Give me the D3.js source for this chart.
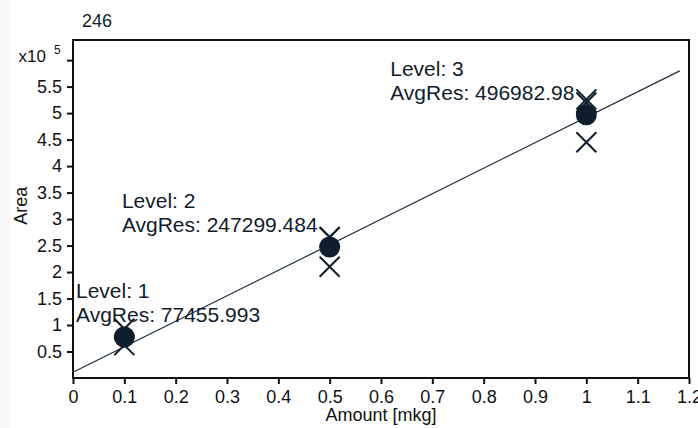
<!DOCTYPE html>
<html>
<head>
<meta charset="utf-8">
<script src="https://cdn.jsdelivr.net/npm/d3@7"></script>
<style>
  html, body { margin: 0; padding: 0; background: #fafafa; }
  svg { display: block; }
  text { font-family: "Liberation Sans", Arial, sans-serif; }
</style>
</head>
<body>
<svg id="chart" width="698" height="428"></svg>
<script>
// Calibration levels: amount injected and averaged response
const levels = [1, 2, 3];
const amounts = [0.1, 0.5, 1.0];
const avgResponse = [77455.993, 247299.484, 496982.98];

// Individual replicate responses per level
const replicates = [
  [62000, 93000],
  [210000, 265500, 266400],
  [445000, 526000, 520000]
];

// Fitted calibration line (intercept, slope) and its drawn extent
const fitIntercept = 10750;
const fitSlope = 481400;
const fitRange = [0, 1.182];

const xTicks = [0, 0.1, 0.2, 0.3, 0.4, 0.5, 0.6, 0.7, 0.8, 0.9, 1, 1.1, 1.2];
const yTicks = [50000, 100000, 150000, 200000, 250000, 300000, 350000, 400000, 450000, 500000, 550000];
const yExpTick = 600000;
const compoundId = "246";

const W = 698, H = 428;
const margin = { left: 73, right: 9, top: 40, bottom: 50 };
const ink = "#0f1d2c";

const svg = d3.select("#chart");
svg.append("rect").attr("x", 10).attr("y", 0).attr("width", W - 10).attr("height", H).attr("fill", "#ffffff");

const x = d3.scaleLinear().domain([0, 1.2]).range([margin.left, W - margin.right]);
const y = d3.scaleLinear().domain([0, 638000]).range([H - margin.bottom, margin.top]);

// Axes
const xAxis = d3.axisBottom(x).tickValues(xTicks).tickSize(6).tickPadding(6)
  .tickFormat(d => d3.format("~g")(d));
const gx = svg.append("g").attr("transform", `translate(0,${y(0)})`).call(xAxis);

const yAxis = d3.axisLeft(y).tickValues(yTicks.concat([yExpTick])).tickSize(6).tickPadding(5)
  .tickFormat(d => d === yExpTick ? "" : d3.format("~g")(d / 1e5));
const gy = svg.append("g").attr("transform", `translate(${x(0)},0)`).call(yAxis);

[gx, gy].forEach(g => {
  g.select(".domain").remove();
  g.selectAll(".tick line").attr("stroke", "#111").attr("stroke-width", 2);
  g.selectAll(".tick text").attr("fill", "#111").style("font-size", "18px");
});

// Exponent label at the top tick
const expG = svg.append("g");
expG.append("text").attr("x", x(0) - 27).attr("y", y(yExpTick) + 2)
  .attr("text-anchor", "end").attr("fill", "#111").style("font-size", "17px").text("x10");
expG.append("text").attr("x", x(0) - 19).attr("y", y(yExpTick) - 6)
  .attr("text-anchor", "start").attr("fill", "#111").style("font-size", "12px").text("5");

// Plot frame
svg.append("rect")
  .attr("x", x(0)).attr("y", y.range()[1])
  .attr("width", x(1.2) - x(0)).attr("height", y(0) - y.range()[1])
  .attr("fill", "none").attr("stroke", "#111").attr("stroke-width", 2);

// Axis titles
svg.append("text").attr("x", (x(0) + x(1.2)) / 2).attr("y", 421)
  .attr("text-anchor", "middle").attr("fill", "#111").style("font-size", "18px")
  .text("Amount [mkg]");
svg.append("text").attr("transform", `translate(27,${y(325000)}) rotate(-90)`)
  .attr("text-anchor", "middle").attr("fill", "#111").style("font-size", "18px")
  .text("Area");

svg.append("text").attr("x", 82).attr("y", 27).attr("fill", ink).style("font-size", "18px").text(compoundId);

// Calibration line
const fit = v => fitIntercept + fitSlope * v;
svg.append("line")
  .attr("x1", x(fitRange[0])).attr("y1", y(fit(fitRange[0])))
  .attr("x2", x(fitRange[1])).attr("y2", y(fit(fitRange[1])))
  .attr("stroke", "#1c2b3d").attr("stroke-width", 1.2);

// Replicate crosses
const cross = 10;
levels.forEach((lv, i) => {
  replicates[i].forEach(r => {
    const cx = x(amounts[i]), cy = y(r);
    const p = d3.path();
    p.moveTo(cx - cross, cy - cross); p.lineTo(cx + cross, cy + cross);
    p.moveTo(cx - cross, cy + cross); p.lineTo(cx + cross, cy - cross);
    svg.append("path").attr("d", p.toString()).attr("stroke", ink).attr("stroke-width", 2).attr("fill", "none");
  });
});

// Average response markers
svg.selectAll("circle.avg").data(levels).join("circle")
  .attr("class", "avg")
  .attr("cx", (d, i) => x(amounts[i])).attr("cy", (d, i) => y(avgResponse[i]))
  .attr("r", 10.5).attr("fill", ink);

// Level annotations
levels.forEach((lv, i) => {
  const px = x(amounts[i]), py = y(avgResponse[i]);
  const g = svg.append("g");
  const t1 = g.append("text").attr("y", py - 38.5).attr("fill", ink).style("font-size", "21px")
    .text(`Level: ${lv}`);
  const t2 = g.append("text").attr("y", py - 15).attr("fill", ink).style("font-size", "21px")
    .text(`AvgRes: ${avgResponse[i]}`);
  const wdt = t2.node().getComputedTextLength();
  const sx = Math.max(x(0) + 3, px - 12 - wdt);
  t1.attr("x", sx); t2.attr("x", sx);
});
</script>
</body>
</html>
